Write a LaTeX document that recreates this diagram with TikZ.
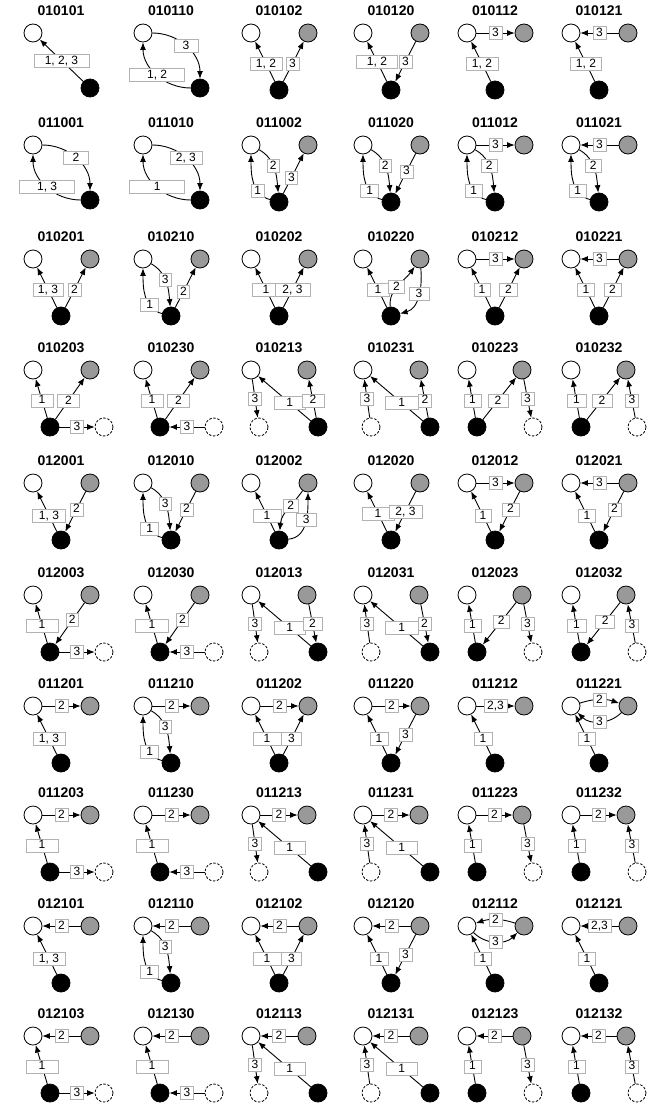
\documentclass[tikz,border=0pt]{standalone}
\usepackage{fontspec}
\setmainfont{Liberation Sans}
\usetikzlibrary{arrows.meta}
\definecolor{nodegrey}{RGB}{153,153,153}
\definecolor{labgrey}{RGB}{178,178,178}
\newcommand{\labfont}{\fontsize{12}{12}\selectfont}
\newcommand{\ttlfont}{\fontsize{14}{14}\selectfont\bfseries}
\tikzset{
  vtx/.style={circle,draw=black,line width=.8pt,minimum size=18pt,inner sep=0pt},
  wnode/.style={vtx,fill=white},
  gnode/.style={vtx,fill=nodegrey},
  bnode/.style={vtx,fill=black},
  dnode/.style={vtx,fill=white,dash pattern=on 2.5pt off 1.6pt},
  lab/.style={draw=labgrey,fill=white,line width=.6pt,inner xsep=3pt,inner ysep=1.5pt,
              text height=8.5pt,text depth=1.5pt,font=\labfont},
  link/.style={-{Latex[length=7.5pt,width=6pt]},line width=.9pt},
  ttl/.style={font=\ttlfont,inner sep=0pt},
}
% one panel: white node at #1, title #2, body #3
\newcommand{\panel}[3]{%
  \begin{scope}[shift={(#1)}]
    \node[ttl] (T) at (28,-22) {#2};
    #3
  \end{scope}}
\newcommand{\diagNodes}{%
  \node[wnode] (W) at (0,0) {};
  \node[bnode] (B) at (57,55) {};}
\newcommand{\triNodes}{%
  \node[wnode] (W) at (0,0) {};
  \node[gnode] (G) at (57,0) {};
  \node[bnode] (B) at (28,57) {};}
\newcommand{\bdNodes}{%
  \node[wnode] (W) at (0,0) {};
  \node[gnode] (G) at (57,0) {};
  \node[bnode] (B) at (17,57) {};
  \node[dnode] (D) at (71,57) {};}
\newcommand{\dbNodes}{%
  \node[wnode] (W) at (0,0) {};
  \node[gnode] (G) at (56,0) {};
  \node[dnode] (D) at (8,57) {};
  \node[bnode] (B) at (67,57) {};}
\newcommand{\bdrNodes}{%
  \node[wnode] (W) at (0,0) {};
  \node[gnode] (G) at (55,0) {};
  \node[bnode] (B) at (10,57) {};
  \node[dnode] (D) at (66,57) {};}

\begin{document}
\begin{tikzpicture}[x=1pt,y=-1pt]
  \useasboundingbox (0,0) rectangle (670,1119);

  % row 1
  \panel{33,33}{010101}{\diagNodes
    \draw[link] (B) -- node[lab,minimum width=55pt] {1, 2, 3} (W);}
  \panel{143,33}{010110}{\diagNodes
    \draw[link] (W) to[out=0,in=90] node[lab,minimum width=24pt] {3} (B);
    \draw[link] (B) to[out=180,in=-90] node[lab,minimum width=55pt] {1, 2} (W);}
  \panel{251,33}{010102}{\triNodes
    \draw[link] (B) -- node[lab,minimum width=32pt,pos=.45] {1, 2} (W);
    \draw[link] (B) -- node[lab,pos=.45] {3} (G);}
  \panel{363,33}{010120}{\triNodes
    \draw[link] (B) -- node[lab,minimum width=41pt,pos=.5] {1, 2} (W);
    \draw[link] (G) -- node[lab,pos=.5] {3} (B);}
  \panel{467,33}{010112}{\triNodes
    \draw[link] (W) -- node[lab] {3} (G);
    \draw[link] (B) -- node[lab,minimum width=32pt,pos=.45] {1, 2} (W);}
  \panel{571,33}{010121}{\triNodes
    \draw[link] (G) -- node[lab] {3} (W);
    \draw[link] (B) -- node[lab,minimum width=31pt,pos=.45] {1, 2} (W);}

  % row 2
  \panel{33,145}{011001}{\diagNodes
    \draw[link] (W) to[out=0,in=90] node[lab,minimum width=25pt] {2} (B);
    \draw[link] (B) to[out=180,in=-90] node[lab,minimum width=55pt] {1, 3} (W);}
  \panel{143,145}{011010}{\diagNodes
    \draw[link] (W) to[out=0,in=90] node[lab,minimum width=32pt] {2, 3} (B);
    \draw[link] (B) to[out=180,in=-90] node[lab,minimum width=55pt] {1} (W);}
  \panel{251,145}{011002}{\triNodes
    \draw[link] (B) to[out=165,in=-90] node[lab,pos=.3] {1} (W);
    \draw[link] (W) to[out=-30,in=95] node[lab,pos=.45] {2} (B);
    \draw[link] (B) -- node[lab,pos=.4] {3} (G);}
  \panel{363,145}{011020}{\triNodes
    \draw[link] (B) to[out=165,in=-90] node[lab,minimum width=18pt,pos=.3] {1} (W);
    \draw[link] (W) to[out=-30,in=95] node[lab,pos=.45] {2} (B);
    \draw[link] (G) -- node[lab,pos=.45] {3} (B);}
  \panel{467,145}{011012}{\triNodes
    \draw[link] (W) -- node[lab] {3} (G);
    \draw[link] (B) to[out=165,in=-90] node[lab,minimum width=17pt,pos=.3] {1} (W);
    \draw[link] (W) to[out=-30,in=95] node[lab,minimum width=16pt,pos=.45] {2} (B);}
  \panel{571,145}{011021}{\triNodes
    \draw[link] (G) -- node[lab] {3} (W);
    \draw[link] (B) to[out=165,in=-90] node[lab,minimum width=17pt,pos=.3] {1} (W);
    \draw[link] (W) to[out=-30,in=95] node[lab,minimum width=16pt,pos=.45] {2} (B);}

  % row 3
  \panel{33,259}{010201}{\triNodes
    \draw[link] (B) -- node[lab,minimum width=30pt,pos=.45] {1, 3} (W);
    \draw[link] (B) -- node[lab,pos=.45] {2} (G);}
  \panel{143,259}{010210}{\triNodes
    \draw[link] (B) to[out=165,in=-90] node[lab,minimum width=18pt,pos=.3] {1} (W);
    \draw[link] (W) to[out=-30,in=95] node[lab,pos=.45] {3} (B);
    \draw[link] (B) -- node[lab,pos=.4] {2} (G);}
  \panel{251,259}{010202}{\triNodes
    \draw[link] (B) -- node[lab,minimum width=28pt,pos=.45] {1} (W);
    \draw[link] (B) -- node[lab,minimum width=35pt,pos=.45] {2, 3} (G);}
  \panel{363,259}{010220}{\triNodes
    \draw[link] (B) -- node[lab,minimum width=22pt,pos=.45] {1} (W);
    \draw[link] (B) to[out=95,in=-125] node[lab,minimum width=16pt,pos=.45] {2} (G);
    \draw[link] (G) to[out=-85,in=15] node[lab,minimum width=20pt,pos=.45] {3} (B);}
  \panel{467,259}{010212}{\triNodes
    \draw[link] (W) -- node[lab] {3} (G);
    \draw[link] (B) -- node[lab,minimum width=16pt,pos=.45] {1} (W);
    \draw[link] (B) -- node[lab,minimum width=18pt,pos=.45] {2} (G);}
  \panel{571,259}{010221}{\triNodes
    \draw[link] (G) -- node[lab] {3} (W);
    \draw[link] (B) -- node[lab,minimum width=17pt,pos=.45] {1} (W);
    \draw[link] (B) -- node[lab,minimum width=17pt,pos=.45] {2} (G);}

  % row 4
  \panel{33,370}{010203}{\bdNodes
    \draw[link] (B) -- node[lab,minimum width=22pt,pos=.45] {1} (W);
    \draw[link] (B) -- node[lab,minimum width=22pt,pos=.45] {2} (G);
    \draw[link] (B) -- node[lab] {3} (D);}
  \panel{143,370}{010230}{\bdNodes
    \draw[link] (B) -- node[lab,minimum width=22pt,pos=.45] {1} (W);
    \draw[link] (B) -- node[lab,minimum width=22pt,pos=.45] {2} (G);
    \draw[link] (D) -- node[lab] {3} (B);}
  \panel{251,370}{010213}{\dbNodes
    \draw[link] (W) -- node[lab] {3} (D);
    \draw[link] (B) -- node[lab,minimum width=31pt,pos=.4] {1} (W);
    \draw[link] (B) -- node[lab,minimum width=22pt,pos=.45] {2} (G);}
  \panel{363,370}{010231}{\dbNodes
    \draw[link] (D) -- node[lab] {3} (W);
    \draw[link] (B) -- node[lab,minimum width=33pt,pos=.4] {1} (W);
    \draw[link] (B) -- node[lab,pos=.45] {2} (G);}
  \panel{467,370}{010223}{\bdrNodes
    \draw[link] (B) -- node[lab,minimum width=17pt,pos=.45] {1} (W);
    \draw[link] (B) -- node[lab,minimum width=20pt,pos=.45] {2} (G);
    \draw[link] (G) -- node[lab] {3} (D);}
  \panel{571,370}{010232}{\bdrNodes
    \draw[link] (B) -- node[lab,minimum width=19pt,pos=.45] {1} (W);
    \draw[link] (B) -- node[lab,minimum width=20pt,pos=.45] {2} (G);
    \draw[link] (D) -- node[lab,pos=.45] {3} (G);}

  % row 5
  \panel{33,483}{012001}{\triNodes
    \draw[link] (B) -- node[lab,minimum width=33pt,pos=.4] {1, 3} (W);
    \draw[link] (G) -- node[lab,pos=.45] {2} (B);}
  \panel{143,483}{012010}{\triNodes
    \draw[link] (B) to[out=165,in=-90] node[lab,minimum width=18pt,pos=.3] {1} (W);
    \draw[link] (W) to[out=-30,in=95] node[lab,pos=.45] {3} (B);
    \draw[link] (G) -- node[lab,pos=.45] {2} (B);}
  \panel{251,483}{012002}{\triNodes
    \draw[link] (B) -- node[lab,minimum width=28pt,pos=.4] {1} (W);
    \draw[link] (G) to[out=-125,in=85] node[lab,minimum width=15pt,pos=.4] {2} (B);
    \draw[link] (B) to[out=5,in=-90] node[lab,minimum width=20pt,pos=.55] {3} (G);}
  \panel{363,483}{012020}{\triNodes
    \draw[link] (B) -- node[lab,minimum width=32pt,pos=.45] {1} (W);
    \draw[link] (G) -- node[lab,minimum width=33pt,pos=.5] {2, 3} (B);}
  \panel{467,483}{012012}{\triNodes
    \draw[link] (W) -- node[lab] {3} (G);
    \draw[link] (B) -- node[lab,minimum width=16pt,pos=.4] {1} (W);
    \draw[link] (G) -- node[lab,minimum width=17pt,pos=.45] {2} (B);}
  \panel{571,483}{012021}{\triNodes
    \draw[link] (G) -- node[lab] {3} (W);
    \draw[link] (B) -- node[lab,minimum width=17pt,pos=.4] {1} (W);
    \draw[link] (G) -- node[lab,pos=.45] {2} (B);}

  % row 6
  \panel{33,595}{012003}{\bdNodes
    \draw[link] (B) -- node[lab,minimum width=32pt,pos=.45] {1} (W);
    \draw[link] (G) -- node[lab,pos=.42] {2} (B);
    \draw[link] (B) -- node[lab] {3} (D);}
  \panel{143,595}{012030}{\bdNodes
    \draw[link] (B) -- node[lab,minimum width=33pt,pos=.45] {1} (W);
    \draw[link] (G) -- node[lab,pos=.42] {2} (B);
    \draw[link] (D) -- node[lab] {3} (B);}
  \panel{251,595}{012013}{\dbNodes
    \draw[link] (W) -- node[lab] {3} (D);
    \draw[link] (B) -- node[lab,minimum width=31pt,pos=.4] {1} (W);
    \draw[link] (G) -- node[lab,minimum width=19pt,pos=.5] {2} (B);}
  \panel{363,595}{012031}{\dbNodes
    \draw[link] (D) -- node[lab] {3} (W);
    \draw[link] (B) -- node[lab,minimum width=33pt,pos=.4] {1} (W);
    \draw[link] (G) -- node[lab,pos=.5] {2} (B);}
  \panel{467,595}{012023}{\bdrNodes
    \draw[link] (B) -- node[lab,minimum width=17pt,pos=.45] {1} (W);
    \draw[link] (G) -- node[lab,minimum width=16pt,pos=.45] {2} (B);
    \draw[link] (G) -- node[lab] {3} (D);}
  \panel{571,595}{012032}{\bdrNodes
    \draw[link] (B) -- node[lab,minimum width=19pt,pos=.45] {1} (W);
    \draw[link] (G) -- node[lab,minimum width=19pt,pos=.45] {2} (B);
    \draw[link] (D) -- node[lab,pos=.45] {3} (G);}

  % row 7
  \panel{33,706}{011201}{\triNodes
    \draw[link] (W) -- node[lab] {2} (G);
    \draw[link] (B) -- node[lab,minimum width=32pt,pos=.4] {1, 3} (W);}
  \panel{143,706}{011210}{\triNodes
    \draw[link] (W) -- node[lab] {2} (G);
    \draw[link] (B) to[out=165,in=-90] node[lab,minimum width=18pt,pos=.3] {1} (W);
    \draw[link] (W) to[out=-30,in=95] node[lab,pos=.45] {3} (B);}
  \panel{251,706}{011202}{\triNodes
    \draw[link] (W) -- node[lab] {2} (G);
    \draw[link] (B) -- node[lab,minimum width=28pt,pos=.4] {1} (W);
    \draw[link] (B) -- node[lab,minimum width=20pt,pos=.4] {3} (G);}
  \panel{363,706}{011220}{\triNodes
    \draw[link] (W) -- node[lab] {2} (G);
    \draw[link] (B) -- node[lab,minimum width=18pt,pos=.4] {1} (W);
    \draw[link] (G) -- node[lab,pos=.5] {3} (B);}
  \panel{467,706}{011212}{\triNodes
    \draw[link] (W) -- node[lab] {2,3} (G);
    \draw[link] (B) -- node[lab,minimum width=18pt,pos=.4] {1} (W);}
  \panel{571,706}{011221}{\triNodes
    \draw[link] (W) to[bend left=18] node[lab] {2} (G);
    \draw[link] (G) to[bend left=45] node[lab] {3} (W);
    \draw[link] (B) -- node[lab,minimum width=17pt,pos=.4] {1} (W);}

  % row 8
  \panel{33,815}{011203}{\bdNodes
    \draw[link] (W) -- node[lab] {2} (G);
    \draw[link] (B) -- node[lab,minimum width=32pt,pos=.45] {1} (W);
    \draw[link] (B) -- node[lab] {3} (D);}
  \panel{143,815}{011230}{\bdNodes
    \draw[link] (W) -- node[lab] {2} (G);
    \draw[link] (B) -- node[lab,minimum width=32pt,pos=.45] {1} (W);
    \draw[link] (D) -- node[lab] {3} (B);}
  \panel{251,815}{011213}{\dbNodes
    \draw[link] (W) -- node[lab] {2} (G);
    \draw[link] (W) -- node[lab] {3} (D);
    \draw[link] (B) -- node[lab,minimum width=31pt,pos=.4] {1} (W);}
  \panel{363,815}{011231}{\dbNodes
    \draw[link] (W) -- node[lab] {2} (G);
    \draw[link] (D) -- node[lab] {3} (W);
    \draw[link] (B) -- node[lab,minimum width=31pt,pos=.4] {1} (W);}
  \panel{467,815}{011223}{\bdrNodes
    \draw[link] (W) -- node[lab] {2} (G);
    \draw[link] (B) -- node[lab,minimum width=17pt,pos=.45] {1} (W);
    \draw[link] (G) -- node[lab] {3} (D);}
  \panel{571,815}{011232}{\bdrNodes
    \draw[link] (W) -- node[lab] {2} (G);
    \draw[link] (B) -- node[lab,minimum width=17pt,pos=.45] {1} (W);
    \draw[link] (D) -- node[lab,pos=.45] {3} (G);}

  % row 9
  \panel{33,926}{012101}{\triNodes
    \draw[link] (G) -- node[lab] {2} (W);
    \draw[link] (B) -- node[lab,minimum width=32pt,pos=.4] {1, 3} (W);}
  \panel{143,926}{012110}{\triNodes
    \draw[link] (G) -- node[lab] {2} (W);
    \draw[link] (B) to[out=165,in=-90] node[lab,minimum width=18pt,pos=.3] {1} (W);
    \draw[link] (W) to[out=-30,in=95] node[lab,pos=.45] {3} (B);}
  \panel{251,926}{012102}{\triNodes
    \draw[link] (G) -- node[lab] {2} (W);
    \draw[link] (B) -- node[lab,minimum width=28pt,pos=.4] {1} (W);
    \draw[link] (B) -- node[lab,minimum width=20pt,pos=.4] {3} (G);}
  \panel{363,926}{012120}{\triNodes
    \draw[link] (G) -- node[lab] {2} (W);
    \draw[link] (B) -- node[lab,minimum width=18pt,pos=.4] {1} (W);
    \draw[link] (G) -- node[lab,pos=.5] {3} (B);}
  \panel{467,926}{012112}{\triNodes
    \draw[link] (G) to[bend right=18] node[lab] {2} (W);
    \draw[link] (W) to[bend right=45] node[lab] {3} (G);
    \draw[link] (B) -- node[lab,minimum width=17pt,pos=.4] {1} (W);}
  \panel{571,926}{012121}{\triNodes
    \draw[link] (G) -- node[lab] {2,3} (W);
    \draw[link] (B) -- node[lab,minimum width=17pt,pos=.4] {1} (W);}

  % row 10
  \panel{33,1036}{012103}{\bdNodes
    \draw[link] (G) -- node[lab] {2} (W);
    \draw[link] (B) -- node[lab,minimum width=32pt,pos=.45] {1} (W);
    \draw[link] (B) -- node[lab] {3} (D);}
  \panel{143,1036}{012130}{\bdNodes
    \draw[link] (G) -- node[lab] {2} (W);
    \draw[link] (B) -- node[lab,minimum width=32pt,pos=.45] {1} (W);
    \draw[link] (D) -- node[lab] {3} (B);}
  \panel{251,1036}{012113}{\dbNodes
    \draw[link] (G) -- node[lab] {2} (W);
    \draw[link] (W) -- node[lab] {3} (D);
    \draw[link] (B) -- node[lab,minimum width=31pt,pos=.4] {1} (W);}
  \panel{363,1036}{012131}{\dbNodes
    \draw[link] (G) -- node[lab] {2} (W);
    \draw[link] (D) -- node[lab] {3} (W);
    \draw[link] (B) -- node[lab,minimum width=31pt,pos=.4] {1} (W);}
  \panel{467,1036}{012123}{\bdrNodes
    \draw[link] (G) -- node[lab] {2} (W);
    \draw[link] (B) -- node[lab,minimum width=17pt,pos=.45] {1} (W);
    \draw[link] (G) -- node[lab] {3} (D);}
  \panel{571,1036}{012132}{\bdrNodes
    \draw[link] (G) -- node[lab] {2} (W);
    \draw[link] (B) -- node[lab,minimum width=17pt,pos=.45] {1} (W);
    \draw[link] (D) -- node[lab,pos=.45] {3} (G);}
\end{tikzpicture}
\end{document}
